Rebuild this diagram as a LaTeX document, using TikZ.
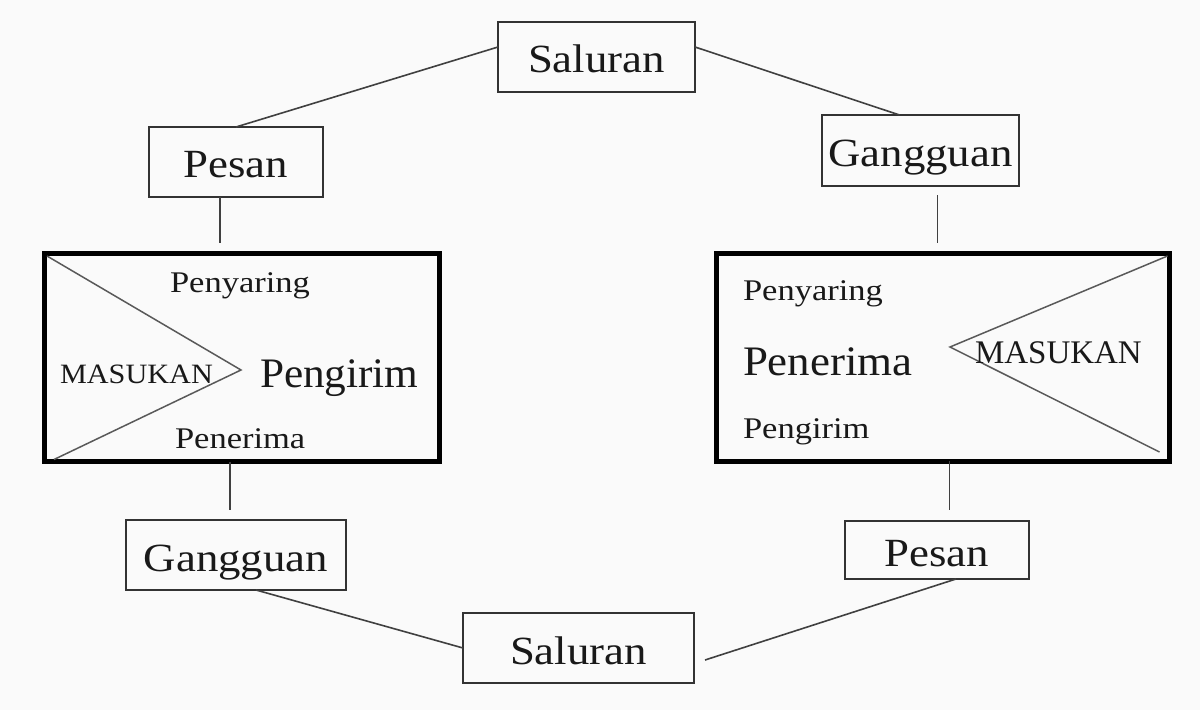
\documentclass[tikz,border=0pt]{standalone}
\usepackage{fontspec}
\usepackage{graphicx}
\setmainfont{Liberation Serif}
\newcommand\mytxt[3]{\fontsize{#1bp}{#1bp}\selectfont\scalebox{#2}[1]{#3}}
\definecolor{bgc}{RGB}{250,250,250}
\definecolor{ink}{RGB}{25,25,25}
\tikzset{
  lbl/.style={draw=black!80, line width=2bp, inner sep=0pt, outer sep=0pt, text=ink,
              text height=34bp, text depth=2bp, font=\fontsize{40bp}{40bp}\selectfont},
  big/.style={draw=black, line width=5bp, inner sep=0pt, outer sep=0pt},
  con/.style={draw=black!75, line width=1.6bp},
  tri/.style={draw=black!65, line width=1.5bp, line join=miter},
  word/.style={anchor=base west, inner sep=0pt, outer sep=0pt, text=ink}
}
\begin{document}
\begin{tikzpicture}[x=1bp,y=-1bp]
\fill[bgc] (0,0) rectangle (1200,710);
\useasboundingbox (0,0) rectangle (1200,710);

% small boxes
\node[lbl, minimum width=197bp, minimum height=70bp] (salT) at (596.5,57) {\scalebox{1.12}[1]{Saluran}};
\node[lbl, minimum width=174bp, minimum height=70bp] (pesL) at (236,162) {\scalebox{1.12}[1]{Pesan}};
\node[lbl, minimum width=197bp, minimum height=71bp] (ganR) at (920.5,150.5) {\scalebox{1.12}[1]{Gangguan}};
\node[lbl, minimum width=220bp, minimum height=70bp] (ganL) at (236,555) {\scalebox{1.12}[1]{Gangguan}};
\node[lbl, minimum width=184bp, minimum height=58bp] (pesR) at (937,550) {\scalebox{1.12}[1]{Pesan}};
\node[lbl, minimum width=231bp, minimum height=70bp] (salB) at (578.5,648) {\scalebox{1.12}[1]{Saluran}};

% big boxes
\node[big, minimum width=394bp, minimum height=207.5bp] (boxL) at (242,357.75) {};
\node[big, minimum width=453bp, minimum height=207bp] (boxR) at (943,357.5) {};

% triangles
\coordinate (apL) at (241,370);
\coordinate (apR) at (950,347);
\draw[tri] ([shift={(2,2)}]boxL.north west) -- (apL) -- ([shift={(9,-2)}]boxL.south west);
\draw[tri] ([shift={(-2,2)}]boxR.north east) -- (apR) -- ([shift={(-10,-9)}]boxR.south east);

% words in left box
\node[word] (l1) at (170,292) {\mytxt{30}{1.15}{Penyaring}};
\node[word] (l2) at (60,383) {\mytxt{28}{1.08}{MASUKAN}};
\node[word] (l3) at (260,387) {\mytxt{42}{1.03}{Pengirim}};
\node[word] (l4) at (175,448) {\mytxt{30}{1.15}{Penerima}};

% words in right box
\node[word] (r1) at (743,300) {\mytxt{30}{1.15}{Penyaring}};
\node[word] (r2) at (743,375) {\mytxt{42}{1.07}{Penerima}};
\node[word] (r3) at (975,363) {\mytxt{33}{1.0}{MASUKAN}};
\node[word] (r4) at (743,438) {\mytxt{30}{1.15}{Pengirim}};

% connectors
\draw[con] ([yshift=10bp]salT.west) -- (pesL.north);
\draw[con] ([yshift=10bp]salT.east) -- ([xshift=-21bp]ganR.north);
\draw[con, shorten >=11bp] ([xshift=-16bp]pesL.south) -- ([xshift=-16bp]pesL.south |- boxL.north);
\draw[con, shorten <=9bp, shorten >=11bp] ([xshift=17bp]ganR.south) -- ([xshift=17bp]ganR.south |- boxR.north);
\draw[con, shorten >=10bp] ([xshift=-12bp]boxL.south) -- ([xshift=-12bp]boxL.south |- ganL.north);
\draw[con, shorten >=11bp] ([xshift=6.5bp]boxR.south) -- ([xshift=6.5bp]boxR.south |- pesR.north);
\draw[con] ([xshift=20bp]ganL.south) -- (salB.west);
\draw[con] ([xshift=19bp]pesR.south) -- ([shift={(11,12)}]salB.east);
\end{tikzpicture}
\end{document}
